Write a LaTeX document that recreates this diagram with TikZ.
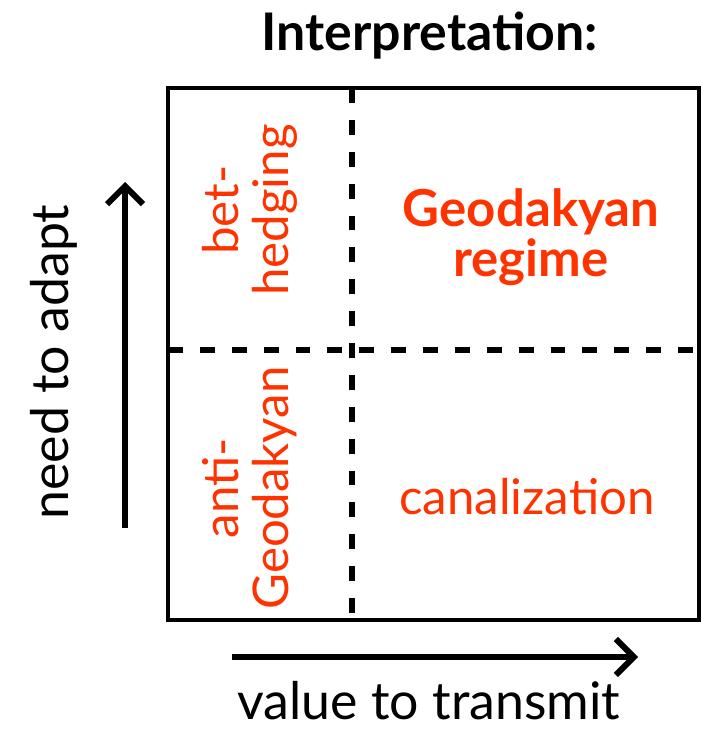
\documentclass[tikz,border=0pt]{standalone}
\usepackage{fontspec}
\setmainfont{Lato}
\usetikzlibrary{arrows.meta}
\definecolor{regimered}{RGB}{255,51,0}
\begin{document}
\begin{tikzpicture}[x=0.02cm,y=-0.02cm,thick,
	axisarrow/.style={line width=6*0.567pt,-{Straight Barb[length=18*0.567pt,width=36*0.567pt,line width=6*0.567pt]}},
	divider/.style={line width=6*0.567pt,dash pattern=on 15*0.567pt off 17*0.567pt},
	cell/.style={text=regimered,font=\fontsize{28}{28.5}\selectfont,align=center}]
	
	\useasboundingbox (0,0) rectangle (700,733);
	
	\begin{scope}[every node/.style={font=\fontsize{29.5}{34}\selectfont}]
	\node[font=\fontsize{29.5}{34}\selectfont\bfseries] (title) at (430,36) {Interpretation:};
	\node[rotate=90] (ylabel) at (54,362) {need to adapt};
	\node[anchor=base,inner sep=0pt] (xlabel) at (429,719) {value to transmit};
	\end{scope}
	
	\begin{scope}
	\draw[line width=4*0.567pt] (168,88) rectangle (699,620);
	\draw[divider] (352,88) -- (352,620);
	\draw[divider] (168,350) -- (699,350);
	\end{scope}
	
	\begin{scope}[every node/.style={cell}]
	\node[rotate=90] (bethedging) at (250,210) {bet-\\hedging};
	\node[rotate=90] (antigeo) at (250,488) {anti-\\Geodakyan};
	\node[font=\fontsize{29}{28.5}\selectfont\bfseries] (geodakyan) at (531,237) {Geodakyan\\regime};
	\node (canal) at (527,497) {canalization};
	\end{scope}
	
	\coordinate (up start) at (125,528);
	\coordinate (up end) at (125,182);
	\coordinate (right start) at (232,657);
	\coordinate (right end) at (638,657);
	\draw[axisarrow] (up start) -- (up end);
	\draw[axisarrow] (right start) -- (right end);
	
\end{tikzpicture}
\end{document}
